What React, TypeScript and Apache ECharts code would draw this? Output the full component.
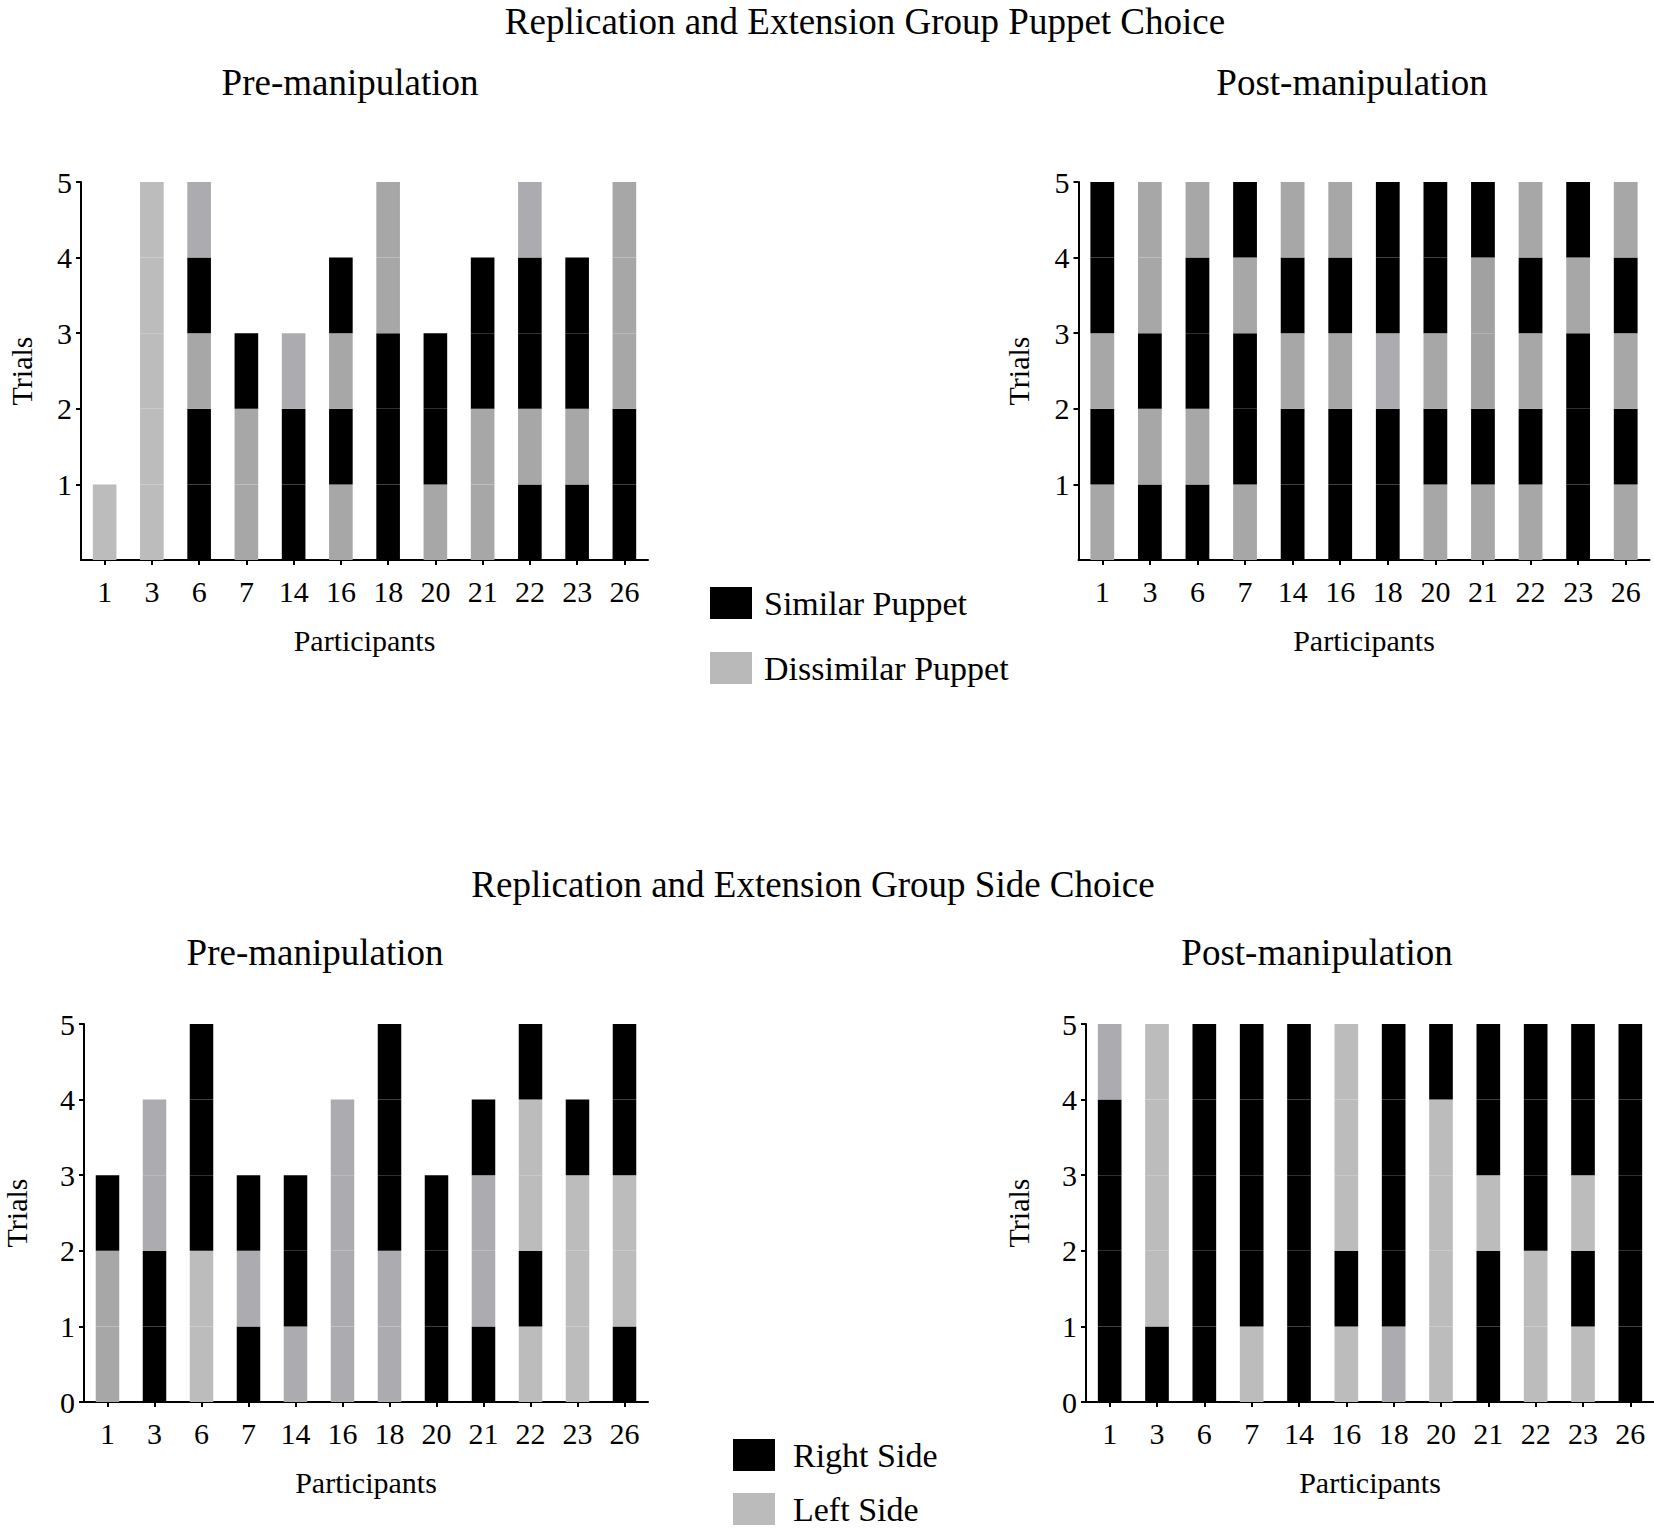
import React, { useEffect, useRef } from "react";
import * as echarts from "echarts";

// Participants (x categories)
const participants = ["1", "3", "6", "7", "14", "16", "18", "20", "21", "22", "23", "26"];

// Each string lists one participant's trials from bottom to top.
// K = first category (Similar Puppet / Right Side, black);
// L, M, B, D = second category (Dissimilar Puppet / Left Side) in the grey shade used in the figure.
const puppetPre = ["L", "LLLLL", "KKMKB", "MMK", "KKB", "MKMK", "KKKMM", "MKK", "MMKK", "KMKKB", "KMKK", "KKMMM"];
const puppetPost = ["MKMKK", "KMKMM", "KMKKM", "MKKMK", "KKMKM", "KKMKM", "KKBKK", "MKMKK", "MKDDK", "MKMKM", "KKKMK", "MKMKM"];
const sidePre = ["MMK", "KKBB", "LLKKK", "KBK", "BKK", "BBBB", "BBKKK", "KKK", "KBBK", "LKLLK", "LLLK", "KLLKK"];
const sidePost = ["KKKKB", "KLLLL", "KKKKK", "LKKKK", "KKKKK", "LKLLL", "BKKKK", "LLLLK", "KKLKK", "LLKKK", "LKLKK", "KKKKK"];

const yTicks = [0, 1, 2, 3, 4, 5];
const maxTrials = 5;

const shade: Record<string, string> = {
  K: "#000000",
  L: "#bbbcbb",
  M: "#a7a7a7",
  B: "#acacb0",
  D: "#a1a1a1",
};

const FONT = '"Liberation Serif", "Times New Roman", serif';

export default function App() {
  const ref = useRef<HTMLDivElement>(null);

  useEffect(() => {
    if (!ref.current) return;
    const chart = echarts.init(ref.current, undefined, { renderer: "svg" });

    const panels = [
      { choices: puppetPre, left: 81, top: 182, width: 567, height: 378, showZero: false, nameGap: 45 },
      { choices: puppetPost, left: 1078.5, top: 182, width: 571, height: 378, showZero: false, nameGap: 45 },
      { choices: sidePre, left: 81, top: 1024, width: 567, height: 378, showZero: true, nameGap: 53 },
      { choices: sidePost, left: 1086, top: 1024, width: 568, height: 378, showZero: true, nameGap: 53 },
    ];

    const axisLine = { show: true, lineStyle: { color: "#000", width: 2 } };
    const axisTick = { show: true, length: 5, lineStyle: { color: "#000", width: 2 } };

    const grid = panels.map((p) => ({
      left: p.left,
      top: p.top,
      width: p.width,
      height: p.height,
      containLabel: false,
    }));

    const xAxis = panels.map((p, i) => ({
      type: "category",
      gridIndex: i,
      data: participants,
      boundaryGap: true,
      axisLine,
      axisTick: { ...axisTick, alignWithLabel: true },
      axisLabel: { color: "#000", fontFamily: FONT, fontSize: 30, margin: 16, interval: 0 },
      name: "Participants",
      nameLocation: "middle",
      nameGap: 65,
      nameTextStyle: { color: "#000", fontFamily: FONT, fontSize: 30 },
      splitLine: { show: false },
    }));

    const yAxis = panels.map((p, i) => ({
      type: "value",
      gridIndex: i,
      min: yTicks[0],
      max: yTicks[yTicks.length - 1],
      interval: 1,
      axisLine,
      axisTick,
      axisLabel: {
        color: "#000",
        fontFamily: FONT,
        fontSize: 30,
        margin: 9,
        showMinLabel: p.showZero,
      },
      name: "Trials",
      nameLocation: "middle",
      nameGap: p.nameGap,
      nameTextStyle: { color: "#000", fontFamily: FONT, fontSize: 30 },
      splitLine: { show: false },
    }));

    const series: any[] = [];
    panels.forEach((p, g) => {
      for (let level = 0; level < maxTrials; level++) {
        series.push({
          type: "bar",
          name: `panel${g}-trial${level + 1}`,
          xAxisIndex: g,
          yAxisIndex: g,
          stack: `stack${g}`,
          barWidth: "50%",
          silent: true,
          emphasis: { disabled: true },
          data: p.choices.map((s) =>
            level < s.length ? { value: 1, itemStyle: { color: shade[s[level]] } } : "-"
          ),
        });
      }
    });

    // legend-only series (no data)
    const legendSeries = [
      { name: "Similar Puppet", color: "#000000", g: 0 },
      { name: "Dissimilar Puppet", color: "#b9b9b9", g: 0 },
      { name: "Right Side", color: "#000000", g: 2 },
      { name: "Left Side", color: "#bbbbbb", g: 2 },
    ];
    legendSeries.forEach((l) => {
      series.push({
        type: "bar",
        name: l.name,
        xAxisIndex: l.g,
        yAxisIndex: l.g,
        stack: `stack${l.g}`,
        barWidth: "50%",
        itemStyle: { color: l.color },
        data: [],
      });
    });

    const legendText = { color: "#000", fontFamily: FONT, fontSize: 34, lineHeight: 32, padding: [0, 0, 0, 7] };
    const legendBase = {
      orient: "horizontal",
      padding: 0,
      itemWidth: 42,
      itemHeight: 32,
      icon: "rect",
      selectedMode: false,
      textStyle: legendText,
    };
    const legend = [
      { ...legendBase, data: ["Similar Puppet"], left: 710, top: 586 },
      { ...legendBase, data: ["Dissimilar Puppet"], left: 710, top: 651 },
      { ...legendBase, data: ["Right Side"], left: 733, top: 1438, textStyle: { ...legendText, padding: [0, 0, 0, 13] } },
      { ...legendBase, data: ["Left Side"], left: 733, top: 1492, textStyle: { ...legendText, padding: [0, 0, 0, 13] } },
    ];

    const mkText = (text: string, x: number, y: number, size: number) => ({
      type: "text",
      x,
      y,
      style: {
        text,
        fill: "#000",
        font: `${size}px ${FONT}`,
        fontSize: size,
        fontFamily: FONT,
        lineHeight: 32,
        textAlign: "center",
        align: "center",
        textVerticalAlign: "middle",
        verticalAlign: "middle",
      },
    });

    chart.setOption({
      animation: false,
      backgroundColor: "#ffffff",
      textStyle: { fontFamily: FONT },
      grid,
      xAxis,
      yAxis,
      legend,
      series,
      graphic: [
        mkText("Replication and Extension Group Puppet Choice", 865, 21, 37),
        mkText("Pre-manipulation", 350, 82, 37),
        mkText("Post-manipulation", 1352, 82, 37),
        mkText("Replication and Extension Group Side Choice", 813, 884, 37),
        mkText("Pre-manipulation", 315, 952, 37),
        mkText("Post-manipulation", 1317, 952, 37),
      ],
    });

    return () => chart.dispose();
  }, []);

  return (
    <div
      ref={ref}
      style={{ position: "absolute", left: 0, top: 0, width: 1654, height: 1529 }}
    />
  );
}
